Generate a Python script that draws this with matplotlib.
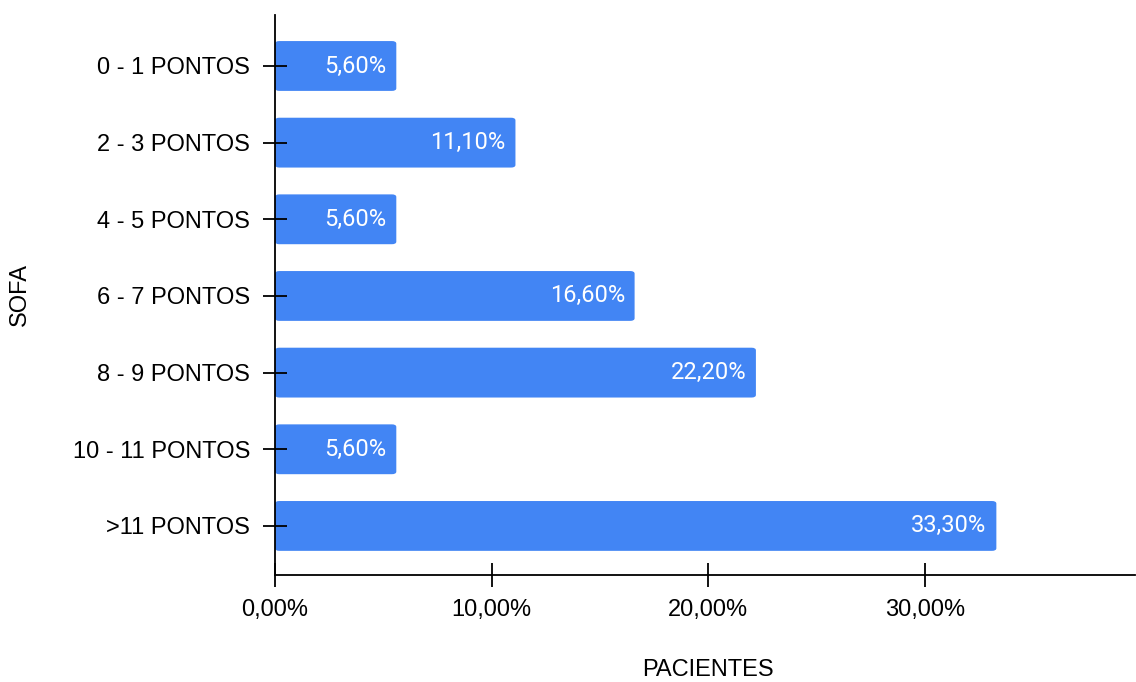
import matplotlib.pyplot as plt
from matplotlib.patches import FancyBboxPatch

plt.rcParams["font.family"] = ["Liberation Sans", "DejaVu Sans"]

categories = ["0 - 1 PONTOS", "2 - 3 PONTOS", "4 - 5 PONTOS", "6 - 7 PONTOS",
              "8 - 9 PONTOS", "10 - 11 PONTOS", ">11 PONTOS"]
values = [5.6, 11.1, 5.6, 16.6, 22.2, 5.6, 33.3]
xticks = [0, 10, 20, 30]

BLUE = "#4285F4"

fig = plt.figure(figsize=(11.36, 6.82), dpi=100)
ax = fig.add_axes([275 / 1136, 1 - 575 / 682, 860 / 1136, 560 / 682])

bars = ax.barh(range(len(categories)), values, height=0.65, color=BLUE)
# slightly rounded bar ends
for b in bars:
    b.set_visible(False)
    x, y = b.get_x(), b.get_y()
    w, h = b.get_width(), b.get_height()
    p = FancyBboxPatch((x, y), w, h, boxstyle="round,pad=0,rounding_size=0.2",
                       mutation_aspect=0.17, fc=BLUE, ec="none")
    ax.add_patch(p)

for i, v in enumerate(values):
    ax.text(v - 0.45, i, f"{v:.2f}%".replace(".", ","), ha="right", va="center",
            color="white", fontsize=17, family=["Roboto", "DejaVu Sans"])

ax.set_xlim(0, 39.7)
ax.set_ylim(6.64, -0.665)
ax.set_yticks(range(len(categories)))
ax.set_yticklabels(categories, fontsize=17)
ax.set_xticks(xticks)
ax.set_xticklabels([f"{t:.2f}%".replace(".", ",") for t in xticks], fontsize=17)
ax.tick_params(axis="y", direction="inout", length=17.3, width=1.3, pad=9.4)
ax.tick_params(axis="x", direction="inout", length=17.3, width=1.3, pad=8.5)

for s in ["top", "right"]:
    ax.spines[s].set_visible(False)
ax.spines["left"].set_linewidth(1.3)
ax.spines["bottom"].set_linewidth(1.3)

ax.set_xlabel("PACIENTES", fontsize=17)
ax.set_ylabel("SOFA", fontsize=17)
ax.xaxis.set_label_coords(0.503, (575 - 659) / 560)
ax.yaxis.set_label_coords((31 - 275) / 860, 0.5)

fig.savefig("out.png", dpi=100)
